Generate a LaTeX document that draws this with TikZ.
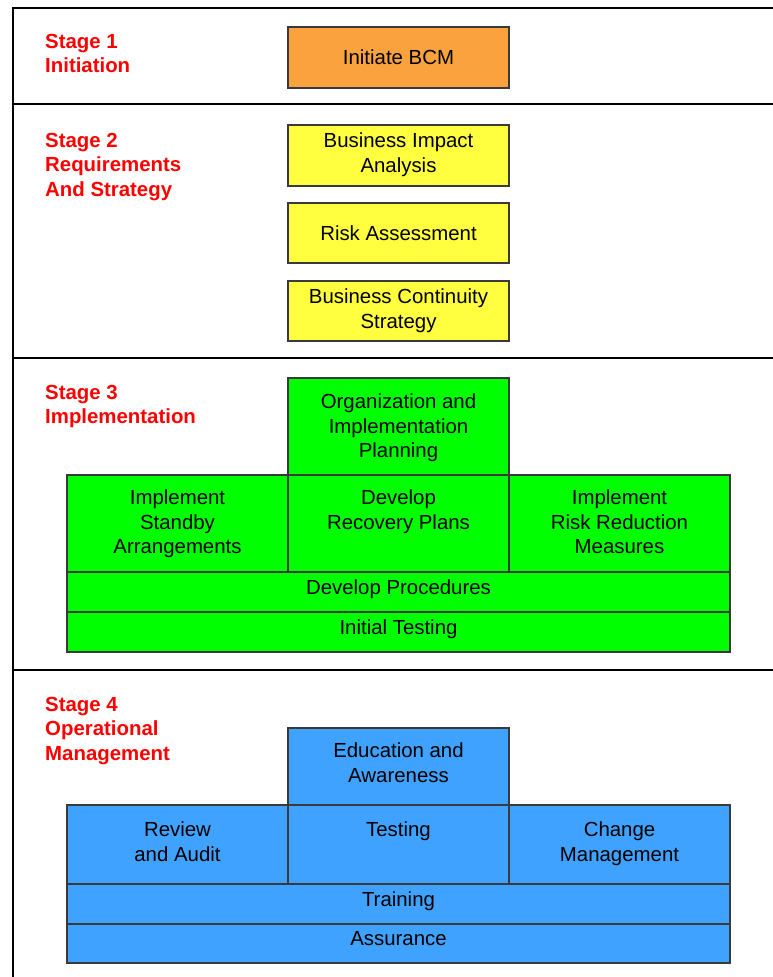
\documentclass[tikz,border=0pt]{standalone}
\usepackage{fontspec}
\setmainfont{Liberation Sans}
\definecolor{boxline}{HTML}{3A3A3A}
\definecolor{orangefill}{HTML}{F9A23E}
\definecolor{yellowfill}{HTML}{FFFF40}
\definecolor{greenfill}{HTML}{00FF00}
\definecolor{bluefill}{HTML}{40A2FF}
\definecolor{stagered}{HTML}{FF0000}
\begin{document}
\begin{tikzpicture}[x=1pt,y=-1pt,
  box/.style={draw=boxline, line width=1.8pt, inner sep=0pt},
  txt/.style={font=\fontsize{20.4}{24.5}\selectfont, align=center, anchor=north, inner sep=0pt},
  stage/.style={font=\fontsize{20.4}{24.5}\selectfont\bfseries, text=stagered, align=left, anchor=north west, inner sep=0pt},
  frameline/.style={line width=2.2pt, black}]
\useasboundingbox (0,0) rectangle (773,977);

% frame
\draw[frameline] (773,8) -- (13,8) -- (13,977);
\draw[frameline] (13,104) -- (773,104);
\draw[frameline] (13,358) -- (773,358);
\draw[frameline] (13,670) -- (773,670);

% stage labels
\node[stage] (s1) at (45,34) {Stage 1\\Initiation};
\node[stage] (s2) at (45,133) {Stage 2\\Requirements\\And Strategy};
\node[stage] (s3) at (45,385) {Stage 3\\Implementation};
\node[stage] (s4) at (45,697) {Stage 4\\Operational\\Management};

% stage 1
\node[box, fill=orangefill, minimum width=221, minimum height=61] (ibcm) at (398.5,57.5) {};
\node[txt] (ibcmt) at (398.5,50) {Initiate BCM};

% stage 2
\node[box, fill=yellowfill, minimum width=221, minimum height=61] (bia) at (398.5,155.5) {};
\node[txt] (biat) at (398.5,133) {Business Impact\\Analysis};
\node[box, fill=yellowfill, minimum width=221, minimum height=60] (ra) at (398.5,233) {};
\node[txt] (rat) at (398.5,226) {Risk Assessment};
\node[box, fill=yellowfill, minimum width=221, minimum height=60] (bcs) at (398.5,311) {};
\node[txt] (bcst) at (398.5,289) {Business Continuity\\Strategy};

% stage 3
\node[box, fill=greenfill, minimum width=221, minimum height=97] (oip) at (398.5,426.5) {};
\node[txt] (oipt) at (398.5,394) {Organization and\\Implementation\\Planning};
\node[box, fill=greenfill, minimum width=221, minimum height=97] (isa) at (177.5,523.5) {};
\node[txt] (isat) at (177.5,490) {Implement\\Standby\\Arrangements};
\node[box, fill=greenfill, minimum width=221, minimum height=97] (drp) at (398.5,523.5) {};
\node[txt] (drpt) at (398.5,490) {Develop\\Recovery Plans};
\node[box, fill=greenfill, minimum width=221, minimum height=97] (irr) at (619.5,523.5) {};
\node[txt] (irrt) at (619.5,490) {Implement\\Risk Reduction\\Measures};
\node[box, fill=greenfill, minimum width=663, minimum height=40] (dp) at (398.5,592) {};
\node[txt] (dpt) at (398.5,580) {Develop Procedures};
\node[box, fill=greenfill, minimum width=663, minimum height=40] (it) at (398.5,632) {};
\node[txt] (itt) at (398.5,620) {Initial Testing};

% stage 4
\node[box, fill=bluefill, minimum width=221, minimum height=77] (ea) at (398.5,766.5) {};
\node[txt] (eat) at (398.5,743) {Education and\\Awareness};
\node[box, fill=bluefill, minimum width=221, minimum height=79] (rev) at (177.5,844.5) {};
\node[txt] (revt) at (177.5,822) {Review\\and Audit};
\node[box, fill=bluefill, minimum width=221, minimum height=79] (tst) at (398.5,844.5) {};
\node[txt] (tstt) at (398.5,822) {Testing};
\node[box, fill=bluefill, minimum width=221, minimum height=79] (cm) at (619.5,844.5) {};
\node[txt] (cmt) at (619.5,822) {Change\\Management};
\node[box, fill=bluefill, minimum width=663, minimum height=40] (tr) at (398.5,904) {};
\node[txt] (trt) at (398.5,892) {Training};
\node[box, fill=bluefill, minimum width=663, minimum height=39] (as) at (398.5,943.5) {};
\node[txt] (ast) at (398.5,931) {Assurance};
\end{tikzpicture}
\end{document}
